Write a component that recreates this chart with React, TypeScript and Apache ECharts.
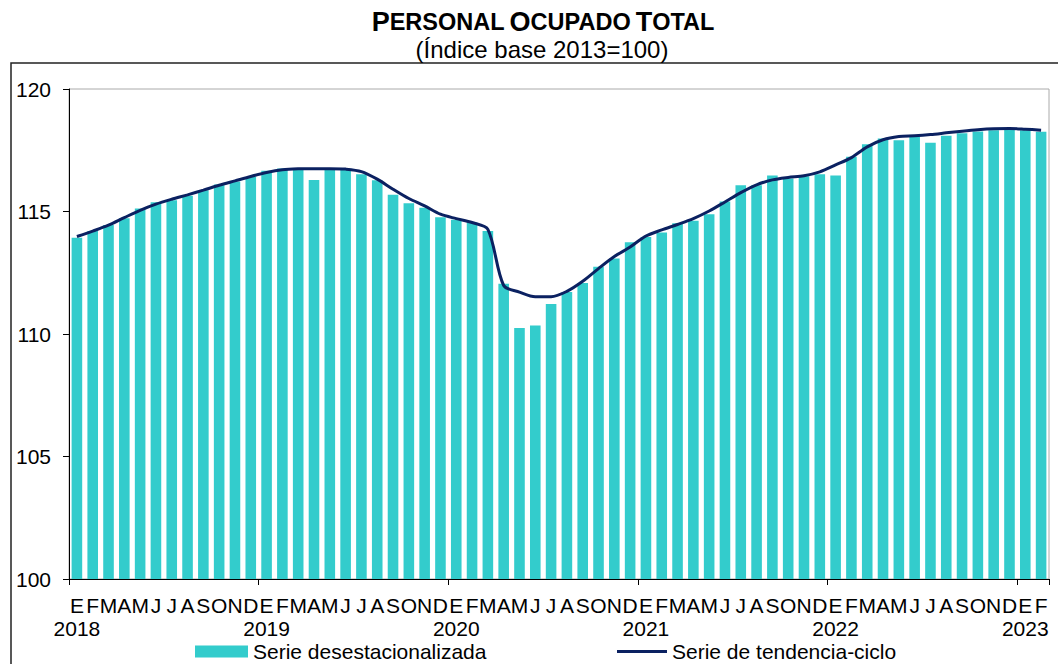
import React, { useEffect, useRef } from "react";
import * as echarts from "echarts";

const monthLetters = ["E", "F", "M", "A", "M", "J", "J", "A", "S", "O", "N", "D"];
const years = [2018, 2019, 2020, 2021, 2022, 2023];

const desestacionalizada = [
  113.93, 114.2, 114.45, 114.72, 115.12, 115.38, 115.46, 115.64, 115.87, 116.1, 116.22, 116.41,
  116.66, 116.76, 116.7, 116.29, 116.7, 116.73, 116.52, 116.28, 115.68, 115.34, 115.15, 114.77,
  114.66, 114.55, 114.2, 112.05, 110.24, 110.35, 111.22, 111.71, 112.08, 112.75, 113.08, 113.74,
  113.96, 114.14, 114.52, 114.62, 114.89, 115.41, 116.07, 116.07, 116.47, 116.35, 116.44, 116.52,
  116.47, 117.23, 117.75, 117.98, 117.91, 118.05, 117.81, 118.09, 118.19, 118.27, 118.32, 118.36,
  118.32, 118.26,
];

const tendenciaCiclo = [
  113.98, 114.2, 114.44, 114.75, 115.05, 115.3, 115.5, 115.68, 115.87, 116.07, 116.25, 116.43,
  116.59, 116.7, 116.74, 116.75, 116.75, 116.73, 116.63, 116.32, 115.91, 115.53, 115.23, 114.89,
  114.71, 114.55, 114.27, 111.98, 111.71, 111.52, 111.52, 111.74, 112.15, 112.67, 113.16, 113.55,
  114.0, 114.25, 114.47, 114.71, 115.02, 115.39, 115.77, 116.09, 116.29, 116.39, 116.46, 116.62,
  116.9, 117.2, 117.64, 117.93, 118.06, 118.09, 118.14, 118.21, 118.28, 118.34, 118.38, 118.39,
  118.36, 118.32,
];

const categories: string[] = desestacionalizada.map((_, i) => {
  const m = i % 12;
  const y = years[Math.floor(i / 12)];
  return m === 0 ? `${monthLetters[m]}\n${y}` : monthLetters[m];
});

const FONT = "'Liberation Sans', Arial, sans-serif";
const NAVY = "#0B2161";

export default function App() {
  const ref = useRef<HTMLDivElement>(null);
  useEffect(() => {
    if (!ref.current) return;
    const chart = echarts.init(ref.current, undefined, { renderer: "svg" });
    chart.setOption({
      animation: false,
      backgroundColor: "#ffffff",
      textStyle: { fontFamily: FONT },
      title: [
        {
          text: "{b|P}{s|ERSONAL} {b|O}{s|CUPADO} {b|T}{s|OTAL}",
          left: 538,
          top: 3,
          textAlign: "center",
          textStyle: {
            rich: {
              b: { fontSize: 27, fontWeight: "bold", color: "#000", fontFamily: FONT },
              s: { fontSize: 23.5, fontWeight: "bold", color: "#000", fontFamily: FONT },
            },
          },
        },
        {
          text: "(Índice base 2013=100)",
          left: 537,
          top: 32,
          textAlign: "center",
          textStyle: { fontSize: 24, fontWeight: "normal", color: "#000", fontFamily: FONT },
        },
      ],
      graphic: [
        {
          type: "rect",
          shape: { x: 11, y: 63, width: 1100, height: 700 },
          style: { fill: "none", stroke: "#222", lineWidth: 1.5 },
          silent: true,
          z: -1,
        },
      ],
      legend: [
        {
          data: [{ name: "Serie desestacionalizada", icon: "rect" }],
          left: 195,
          top: 641,
          itemWidth: 53,
          itemHeight: 12,
          textStyle: { fontSize: 21, color: "#000", fontFamily: FONT },
          padding: 0,
        },
        {
          data: [{ name: "Serie de tendencia-ciclo", icon: "rect" }],
          left: 617,
          top: 641,
          itemWidth: 50,
          itemHeight: 3,
          itemStyle: { color: NAVY },
          textStyle: { fontSize: 21, color: "#000", fontFamily: FONT },
          padding: 0,
        },
      ],
      grid: {
        left: 69,
        right: 9,
        top: 89,
        bottom: 85,
        show: true,
        borderColor: "#aaaaaa",
        borderWidth: 1,
        containLabel: false,
      },
      xAxis: {
        type: "category",
        data: categories,
        boundaryGap: true,
        axisLine: { show: true, lineStyle: { color: "#000", width: 1 } },
        axisTick: {
          show: true,
          alignWithLabel: false,
          interval: (i: number) => i % 12 === 0,
          length: 6,
          lineStyle: { color: "#000" },
        },
        axisLabel: {
          interval: 0,
          margin: 15,
          fontSize: 21,
          lineHeight: 23,
          color: "#000",
          fontFamily: FONT,
          hideOverlap: false,
        },
        splitLine: { show: false },
      },
      yAxis: {
        type: "value",
        min: 100,
        max: 120,
        interval: 5,
        axisLine: { show: true, lineStyle: { color: "#000", width: 1 } },
        axisTick: { show: true, length: 6, lineStyle: { color: "#000" } },
        axisLabel: { fontSize: 21, color: "#000", margin: 18, fontFamily: FONT },
        splitLine: { show: false },
      },
      series: [
        {
          name: "Serie desestacionalizada",
          type: "bar",
          data: desestacionalizada,
          barCategoryGap: "33%",
          itemStyle: { color: "#33CCCC" },
          z: 2,
        },
        {
          name: "Serie de tendencia-ciclo",
          type: "line",
          data: tendenciaCiclo,
          symbol: "none",
          smooth: 0.3,
          lineStyle: { color: NAVY, width: 3 },
          itemStyle: { color: NAVY },
          z: 3,
        },
      ],
    });
    return () => chart.dispose();
  }, []);
  return (
    <div
      ref={ref}
      style={{ position: "fixed", left: 0, top: 0, width: 1058, height: 664, background: "#fff" }}
    />
  );
}
